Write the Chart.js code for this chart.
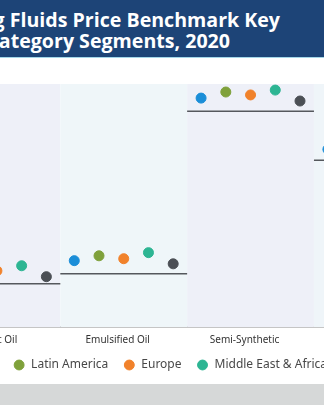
<!DOCTYPE html>
<html>
<head>
<meta charset="utf-8">
<script src="https://cdn.jsdelivr.net/npm/chart.js@4/dist/chart.umd.min.js"></script>
<style>
    html, body {
        margin: 0;
        padding: 0;
        width: 324px;
        height: 405px;
        overflow: hidden;
        background: #d6d8d8;
        font-family: 'Open Sans', 'Noto Sans', sans-serif;
    }
    #banner {
        position: absolute;
        left: 0;
        top: 0;
        width: 324px;
        height: 57px;
        background: #1d4477;
        border-bottom: 1px solid #a3d6e8;
        overflow: hidden;
    }
    .title-line {
        position: absolute;
        white-space: nowrap;
        color: #ffffff;
        font-weight: 700;
        font-size: 19.6px;
        line-height: 22px;
    }
    #card {
        position: absolute;
        left: 0;
        top: 58px;
        width: 324px;
        height: 326px;
        background: #ffffff;
        overflow: hidden;
    }
    #chartBox {
        position: absolute;
        top: 0;
        left: -300px;
        width: 920px;
        height: 326px;
    }
</style>
</head>
<body>
<div id="banner">
    <div class="title-line" style="top: 9px; right: 44px;">Metalworking Fluids Price Benchmark Key</div>
    <div class="title-line" style="top: 30px; right: 94px;">Product Category Segments, 2020</div>
</div>
<div id="card">
    <div id="chartBox"><canvas id="benchmarkChart"></canvas></div>
</div>
<script>
// Categories along the x axis
const categories = ['Straight Oil', 'Emulsified Oil', 'Semi-Synthetic', 'Synthetic'];

// Regions (one dot each per category)
const regions = ['North America', 'Latin America', 'Europe', 'Middle East & Africa', 'Asia Pacific'];
const regionColors = ['#1b8ed8', '#7fa13b', '#f1822b', '#2db593', '#4b4f55'];

// Price index values, per category
const northAmerica     = [2.23, 2.73, 9.42, 7.31];
const latinAmerica     = [2.48, 2.93, 9.67, 7.56];
const europe           = [2.31, 2.81, 9.55, 7.44];
const middleEastAfrica = [2.52, 3.06, 9.75, 7.64];
const asiaPacific      = [2.07, 2.60, 9.30, 7.19];

// Benchmark level drawn as a flat line across each category
const benchmark = [1.78, 2.19, 8.88, 6.86];

const regionValues = [northAmerica, latinAmerica, europe, middleEastAfrica, asiaPacific];
const bandColors = ['#eef0f8', '#eff6f9', '#eef0f8', '#eff5f9'];

// Spread the region dots inside each category band
const DOT_SPACING = 0.195;
// Extra room on the x axis (in category widths) outside the bands, so the
// legend row can be centred on the whole canvas
const X_ROOM_LEFT = 1.794;
const X_ROOM_RIGHT = 1.366;
// How far the legend row is pulled up towards the category labels (px)
const LEGEND_LIFT = 9;

function buildRegionDatasets() {
    return regions.map((name, s) => ({
        type: 'scatter',
        label: name,
        data: regionValues[s].map((v, i) => ({ x: i + (s - 2) * DOT_SPACING, y: v })),
        backgroundColor: regionColors[s],
        borderColor: regionColors[s],
        pointRadius: 5,
        pointHoverRadius: 5,
        order: 1
    }));
}

function buildBenchmarkDataset() {
    const pts = [];
    benchmark.forEach((v, i) => {
        pts.push({ x: i - 0.5, y: v });
        pts.push({ x: i + 0.5, y: v });
        pts.push({ x: i + 0.5, y: null });
    });
    return {
        type: 'line',
        label: 'Benchmark',
        data: pts,
        borderColor: '#55585d',
        borderWidth: 1.5,
        pointRadius: 0,
        spanGaps: false,
        order: 2
    };
}

// Light background band behind every category
const bandPlugin = {
    id: 'bands',
    beforeDatasetsDraw(chart) {
        const { ctx, chartArea, scales } = chart;
        ctx.save();
        categories.forEach((c, i) => {
            const x0 = scales.x.getPixelForValue(i - 0.5);
            const x1 = scales.x.getPixelForValue(i + 0.5);
            ctx.fillStyle = bandColors[i % bandColors.length];
            ctx.fillRect(x0, chartArea.top, x1 - x0, chartArea.bottom - chartArea.top);
        });
        ctx.restore();
    }
};

// Pull the legend row a little closer to the axis labels
const legendLiftPlugin = {
    id: 'legendLift',
    afterLayout(chart) {
        if (chart.legend) {
            chart.legend.top -= LEGEND_LIFT;
            chart.legend.bottom -= LEGEND_LIFT;
        }
    }
};

const ctx = document.getElementById('benchmarkChart').getContext('2d');
const chart = new Chart(ctx, {
    data: {
        datasets: [...buildRegionDatasets(), buildBenchmarkDataset()]
    },
    options: {
        responsive: true,
        maintainAspectRatio: false,
        animation: false,
        layout: {
            padding: { top: 26, left: 0, right: 0, bottom: 3 }
        },
        scales: {
            x: {
                type: 'linear',
                min: -0.5 - X_ROOM_LEFT,
                max: categories.length - 0.5 + X_ROOM_RIGHT,
                afterBuildTicks: axis => {
                    axis.ticks = categories.map((c, i) => ({ value: i }));
                },
                ticks: {
                    callback: v => categories[v],
                    color: '#333333',
                    font: { family: 'Noto Sans', size: 10 },
                    padding: 7,
                    labelOffset: -6,
                    autoSkip: false,
                    maxRotation: 0
                },
                grid: { display: false, drawTicks: false },
                border: { color: '#8c8c8c', width: 1.5 }
            },
            y: {
                display: false,
                min: 0,
                max: 10
            }
        },
        plugins: {
            legend: {
                position: 'bottom',
                maxHeight: 28,
                labels: {
                    usePointStyle: true,
                    pointStyle: 'circle',
                    boxWidth: 12,
                    boxHeight: 7,
                    padding: 15,
                    color: '#484848',
                    font: { family: 'Noto Sans', size: 12 },
                    filter: item => item.text !== 'Benchmark'
                }
            },
            tooltip: { enabled: false },
            title: { display: false }
        }
    },
    plugins: [bandPlugin, legendLiftPlugin]
});
</script>
</body>
</html>
